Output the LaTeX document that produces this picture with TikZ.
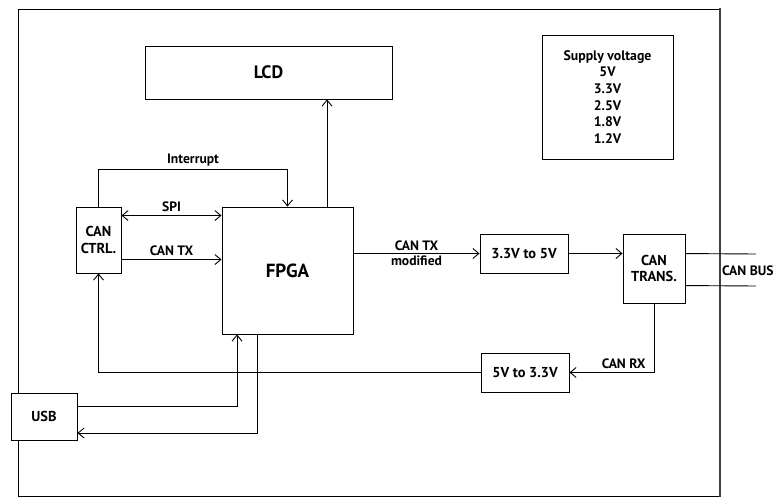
\documentclass[tikz,border=0pt]{standalone}
\usepackage{fontspec}
\setmainfont{PT Sans}
\usetikzlibrary{arrows.meta,calc}

\begin{document}
\begin{tikzpicture}[
  every node/.style={font=\bfseries\fontsize{13.6}{15}\selectfont},
  blk/.style  ={draw,fill=white,align=center,line width=0.9pt,inner sep=2pt,
                font=\bfseries\fontsize{14.4}{16.5}\selectfont},
  big/.style  ={draw,fill=white,align=center,line width=0.9pt,
                font=\bfseries\fontsize{19}{21}\selectfont},
  fl/.style   ={-{Straight Barb[length=6pt,width=10pt]},line width=0.9pt},
  fb/.style   ={{Straight Barb[length=6pt,width=10pt]}-{Straight Barb[length=6pt,width=10pt]},line width=0.9pt},
  wire/.style ={line width=0.9pt},
  x=1pt,y=-1pt]

  \useasboundingbox (0,0) rectangle (775,497);

  % ===== BOARD OUTLINE =====
  \draw[line width=0.9pt] (720,9) -- (18,9) -- (18,496) -- (720,496);
  \draw[line width=2.6pt,black!75] (720,8) -- (720,497);

  % ===== BLOCKS =====
  \node[big,minimum width=247,minimum height=53,font=\bfseries\fontsize{18}{20}\selectfont]
    (lcd) at (268.5,72.5) {LCD};
  \node[blk,minimum width=131,minimum height=124,font=\bfseries\fontsize{13.8}{16.6}\selectfont]
    (supply) at (607.5,97) {Supply voltage\\5V\\3.3V\\2.5V\\1.8V\\1.2V};
  \node[blk,minimum width=45,minimum height=66]   (ctrl)  at (98.5,240)  {CAN\\CTRL.};
  \node[big,minimum width=131,minimum height=127] (fpga)  at (287.5,270.5) {FPGA};
  \node[blk,minimum width=88,minimum height=39]   (up)    at (524,253.5)  {3.3V to 5V};
  \node[blk,minimum width=62,minimum height=69]   (trans) at (654,268.5)  {CAN\\TRANS.};
  \node[blk,minimum width=88,minimum height=39]   (down)  at (525,372.5)  {5V to 3.3V};
  \node[blk,minimum width=66,minimum height=47]   (usb)   at (44,416.5)   {USB};

  % bus ends (outside the board)
  \coordinate (busa) at (756,254);
  \coordinate (busb) at (756,286);

  % ===== ARROWS =====
  % CAN CTRL <-> FPGA
  \draw[fl] (ctrl.north) -- ++(0,-37) -| node[pos=0.25,above]{Interrupt} (fpga.north);
  \draw[fb] ([yshift=-9pt]ctrl.north east) -- node[above]{SPI} ([yshift=-9pt]fpga.north west);
  \draw[fl] ([yshift=-53pt]ctrl.north east) -- node[above]{CAN TX} ([yshift=-53pt]fpga.north west);
  % FPGA up to the display
  \draw[fl] ([xshift=39.5pt]fpga.north) -- ([xshift=39.5pt]fpga.north |- lcd.south);
  % transmit path to the bus
  \draw[fl] (up.west -| fpga.east) -- node[above,yshift=-1pt]{CAN TX}
                                      node[below,yshift=1pt]{modified} (up.west);
  \draw[fl] (up.east) -- (up.east -| trans.west);
  \draw[wire] ([yshift=-20pt]trans.north east) -- (busa);
  \draw[wire] ([yshift=-52pt]trans.north east) -- (busb);
  \node[anchor=west,inner sep=1pt] (bus) at (721,271) {CAN BUS};
  % receive path back
  \draw[fl] (trans.south) |- node[pos=0.68,above]{CAN RX} (down.east);
  \draw[fl] (down.west) -| (ctrl.south);
  % USB in and out
  \draw[fl] ([yshift=10.5pt]usb.east) -| ([xshift=-50.5pt]fpga.south);
  \draw[fl] ([xshift=-30.5pt]fpga.south) |- ([yshift=-16.5pt]usb.east);

\end{tikzpicture}
\end{document}
